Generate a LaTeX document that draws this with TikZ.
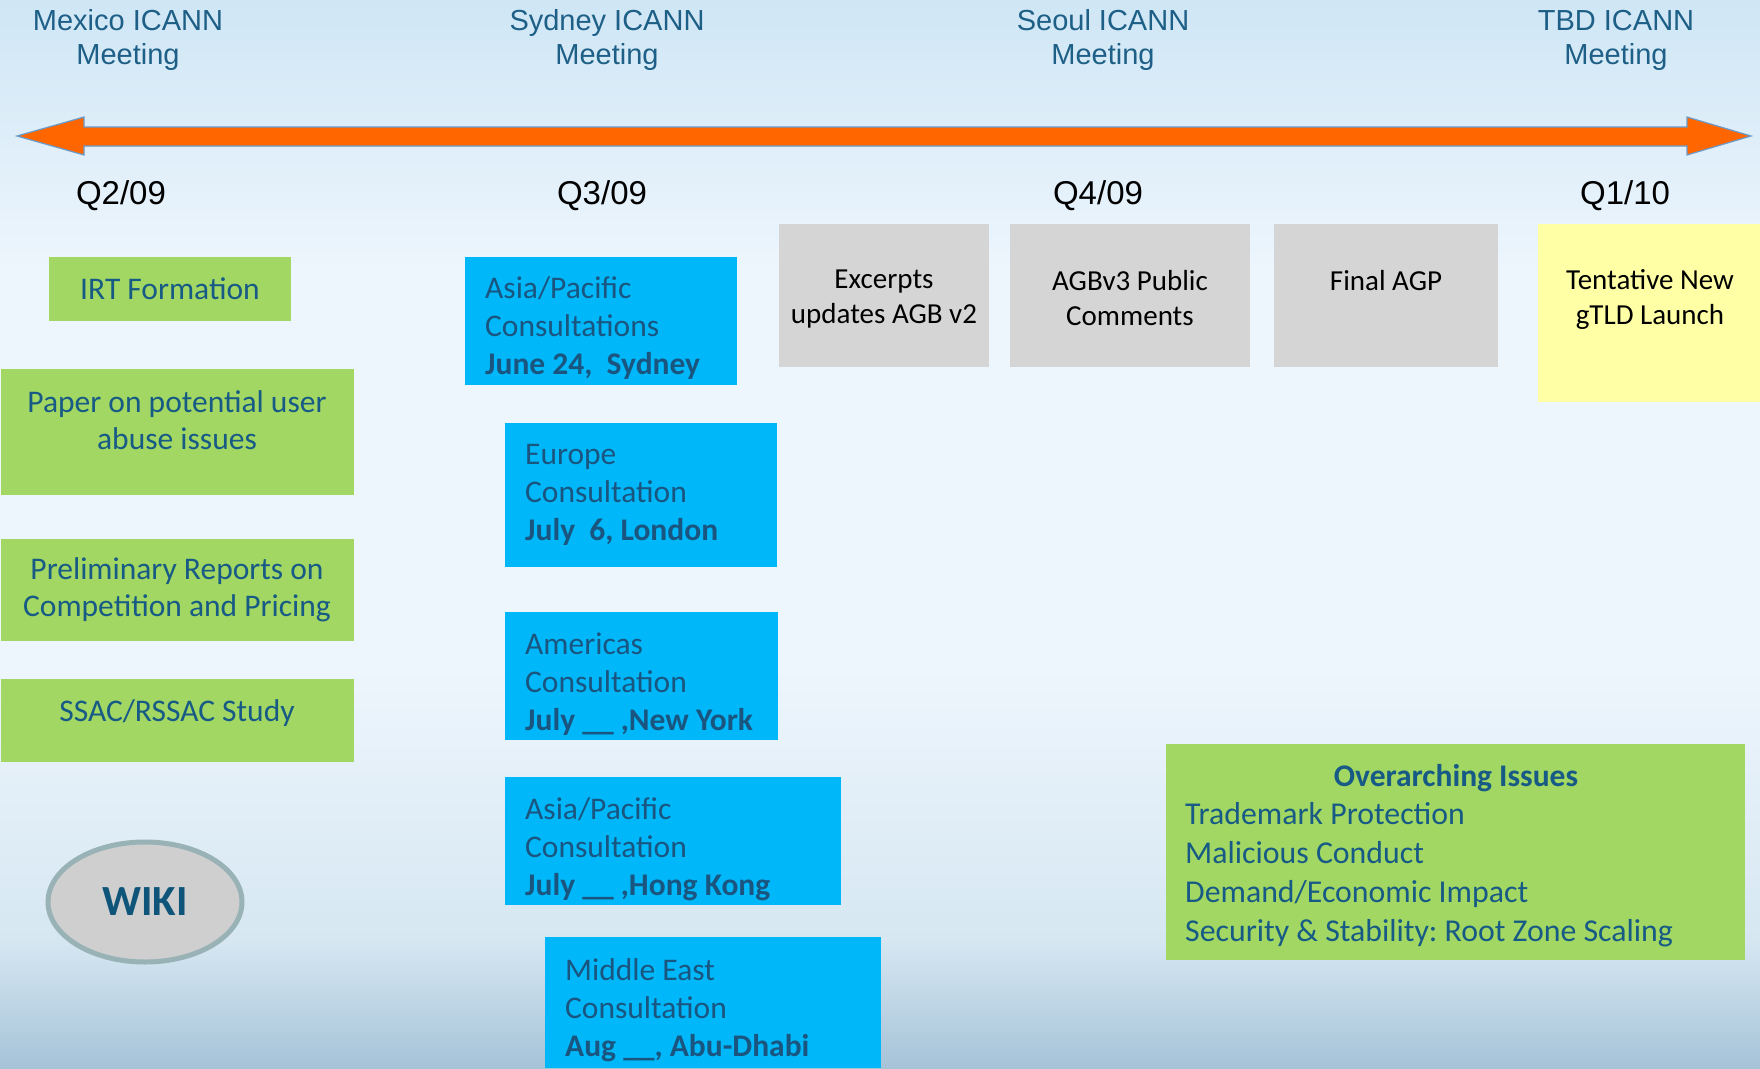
\documentclass[tikz,border=0pt]{standalone}
\usepackage{fontspec}
\setmainfont{Carlito}
\newfontfamily\arialf{Liberation Sans}
\usetikzlibrary{shapes.geometric}
\frenchspacing
\definecolor{bggreen}{HTML}{A1D762}
\definecolor{bgblue}{HTML}{00B7F9}
\definecolor{bggray}{HTML}{D5D5D5}
\definecolor{bgyellow}{HTML}{FFFFA6}
\definecolor{txtblue}{HTML}{175A85}
\definecolor{bluetxt}{HTML}{1A5580}
\definecolor{hdrblue}{HTML}{1D5F86}
\definecolor{orng}{HTML}{FF6600}
\definecolor{arrowline}{HTML}{6B9BC8}
\definecolor{wikiline}{HTML}{98B2B6}
\definecolor{wikifill}{HTML}{CFCFCF}
\definecolor{wikitxt}{HTML}{0F5479}
\definecolor{bgtop}{HTML}{CFE6F5}
\definecolor{bgmid}{HTML}{EEF6FD}
\definecolor{bgb2}{HTML}{D6E7F2}
\definecolor{bgbot}{HTML}{A6C3D8}
\pgfdeclareverticalshading{bgshade}{100bp}{color(0bp)=(bgbot); color(25bp)=(bgbot); color(31bp)=(bgb2); color(44bp)=(bgmid); color(62bp)=(bgmid); color(75bp)=(bgtop); color(100bp)=(bgtop)}
\begin{document}
\begin{tikzpicture}[x=1pt,y=-1pt,
  box/.style={rectangle, inner sep=0pt, outer sep=0pt, anchor=north west},
  gbox/.style={box, fill=bggreen},
  bbox/.style={box, fill=bgblue},
  graybox/.style={box, fill=bggray},
  ybox/.style={box, fill=bgyellow},
  gtext/.style={inner sep=0pt, align=center, text=txtblue, font=\fontsize{31.5}{37}\selectfont},
  btext/.style={inner sep=0pt, align=left, anchor=west, text=bluetxt, font=\fontsize{31.5}{38}\selectfont},
  ktext/.style={inner sep=0pt, align=center, text=black, font=\fontsize{29}{35}\selectfont},
  hdr/.style={inner sep=0pt, align=center, text=hdrblue, font=\arialf\fontsize{29}{34}\selectfont},
  qtr/.style={inner sep=0pt, text=black, font=\arialf\fontsize{33}{38}\selectfont},
]
\useasboundingbox (0,0) rectangle (1760,1068);
\shade[shading=bgshade] (0,0) rectangle (1760,1068);

% headers
\node[hdr] (h1) at (128,40) {Mexico ICANN\\Meeting};
\node[hdr] (h2) at (607,40) {Sydney ICANN\\Meeting};
\node[hdr] (h3) at (1103,40) {Seoul ICANN\\Meeting};
\node[hdr] (h4) at (1616,40) {TBD ICANN\\Meeting};

% timeline arrow
\coordinate (L) at (17,136);
\coordinate (R) at (1751,136);
\fill[orng, draw=arrowline, line width=1.2pt, line join=miter]
  (L) -- ++(67,-19) -- ++(0,10) -- (1687,127) -- ++(0,-10) -- (R)
  -- (1687,155) -- ++(0,-9) -- (84,146) -- ++(0,9) -- cycle;

% quarters
\node[qtr] (q1) at (121,196) {Q2/09};
\node[qtr] (q2) at (602,196) {Q3/09};
\node[qtr] (q3) at (1098,196) {Q4/09};
\node[qtr] (q4) at (1625,196) {Q1/10};

% green boxes
\node[gbox, minimum width=242pt, minimum height=64pt] (irt) at (49,257) {};
\node[gtext] (irtT) at (170,289) {IRT Formation};
\node[gbox, minimum width=353pt, minimum height=126pt] (paper) at (1,369) {};
\node[gtext] (paperT) at (177,420) {Paper on potential user\\abuse issues};
\node[gbox, minimum width=353pt, minimum height=102pt] (prelim) at (1,539) {};
\node[gtext] (prelimT) at (177,590) {Preliminary Reports on\\Competition and Pricing};
\node[gbox, minimum width=353pt, minimum height=83pt] (ssac) at (1,679) {};
\node[gtext] (ssacT) at (177,713) {SSAC/RSSAC Study};

% blue boxes
\node[bbox, minimum width=272pt, minimum height=128pt] (apac1) at (465,257) {};
\node[btext] (apac1T) at (485,328) {Asia/Pacific\\Consultations\\\textbf{June 24,\ \ Sydney}};
\node[bbox, minimum width=272pt, minimum height=144pt] (europe) at (505,423) {};
\node[btext] (europeT) at (525,495) {Europe\\Consultation\\\textbf{July\ \ 6, London}};
\node[bbox, minimum width=273pt, minimum height=128pt] (americas) at (505,612) {};
\node[btext] (americasT) at (525,684) {Americas\\Consultation\\\textbf{July \_\_\ ,New York}};
\node[bbox, minimum width=336pt, minimum height=128pt] (apac2) at (505,777) {};
\node[btext] (apac2T) at (525,849) {Asia/Pacific\\Consultation\\\textbf{July \_\_\ ,Hong Kong}};
\node[bbox, minimum width=336pt, minimum height=131pt] (mideast) at (545,937) {};
\node[btext] (mideastT) at (565,1010) {Middle East\\Consultation\\\textbf{Aug \_\_, Abu-Dhabi}};

% gray boxes
\node[graybox, minimum width=210pt, minimum height=143pt] (excerpts) at (779,224) {};
\node[ktext] (excerptsT) at (884,299) {Excerpts\\updates AGB v2};
\node[graybox, minimum width=240pt, minimum height=143pt] (agbv3) at (1010,224) {};
\node[ktext] (agbv3T) at (1130,298) {AGBv3 Public\\Comments};
\node[graybox, minimum width=224pt, minimum height=143pt] (final) at (1274,224) {};
\node[ktext] (finalT) at (1386,281) {Final AGP};

% yellow box
\node[ybox, minimum width=222pt, minimum height=178pt] (launch) at (1538,224) {};
\node[ktext] (launchT) at (1650,299) {Tentative New\\gTLD Launch};

% overarching issues
\node[gbox, minimum width=579pt, minimum height=216pt] (over) at (1166,744) {};
\node[gtext, font=\bfseries\fontsize{31.5}{37}\selectfont] (overT) at (1456,778) {Overarching Issues};
\node[gtext, align=left, anchor=west, font=\fontsize{31.8}{39}\selectfont] (overL) at (1185,875)
  {Trademark Protection\\Malicious Conduct\\Demand/Economic Impact\\Security \& Stability: Root Zone Scaling};

% wiki
\node[ellipse, minimum width=194pt, minimum height=120pt, fill=wikifill, draw=wikiline,
  line width=5pt, inner sep=0pt, text=wikitxt, font=\bfseries\fontsize{43}{46}\selectfont] (wiki) at (145,902) {WIKI};
\end{tikzpicture}
\end{document}
